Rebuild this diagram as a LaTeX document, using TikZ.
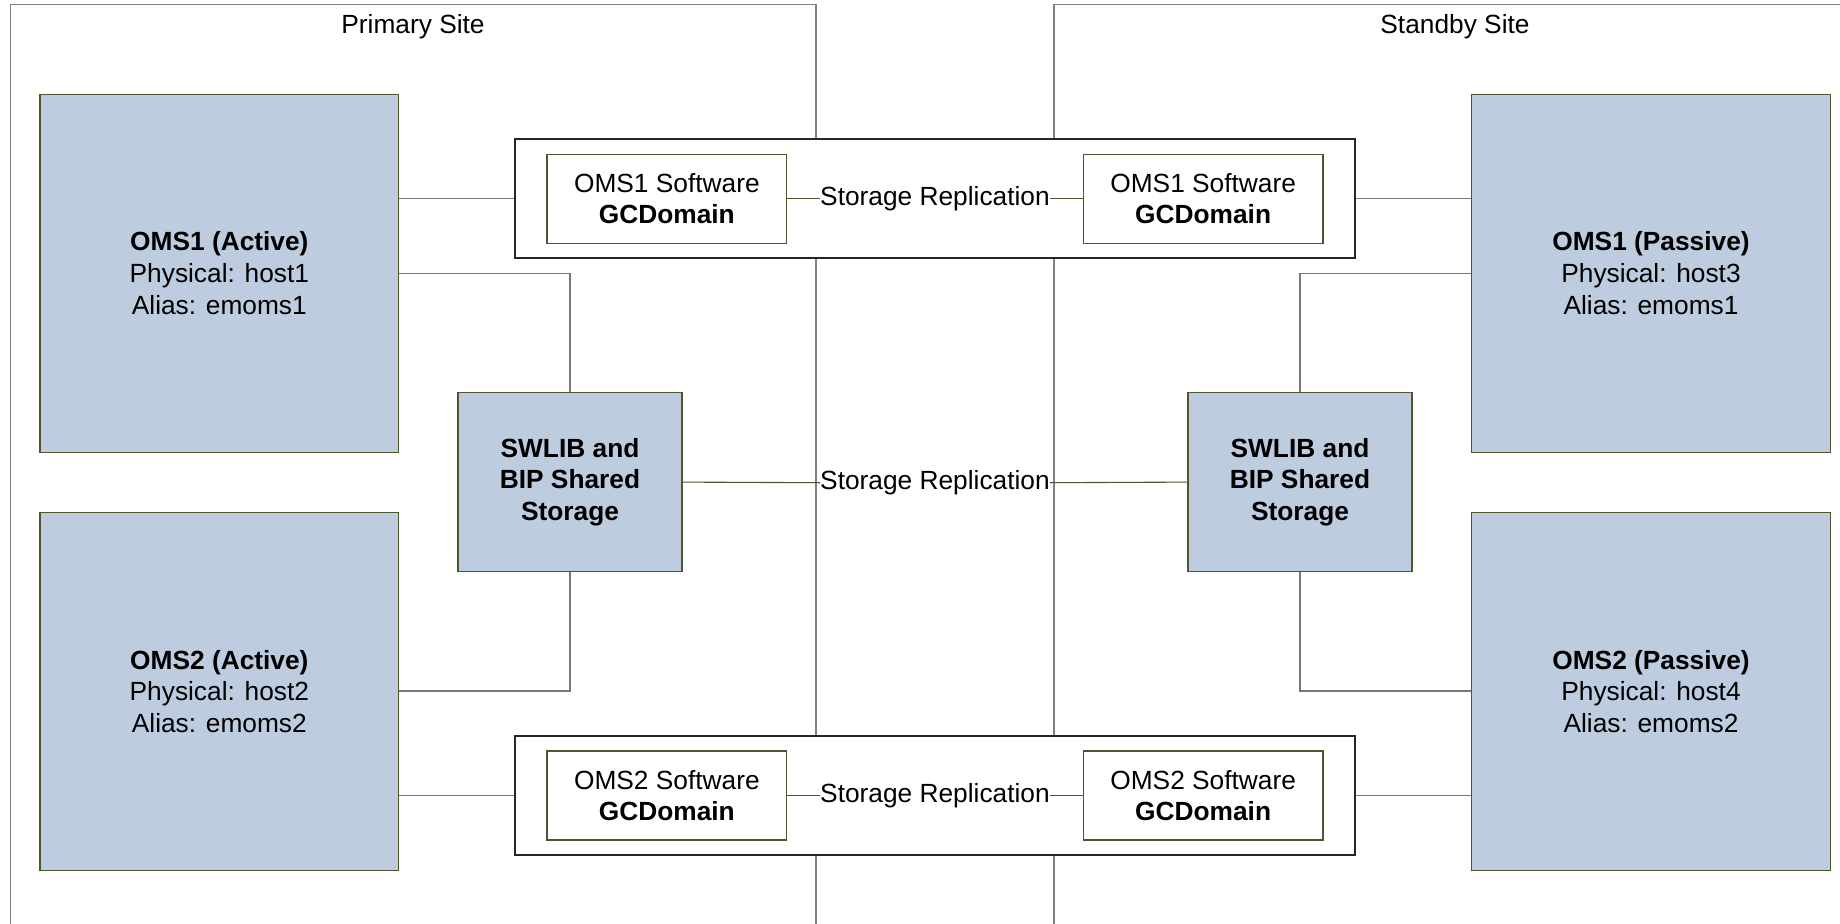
\documentclass[tikz,border=0pt]{standalone}
\usepackage{fontspec}
\setmainfont{Liberation Sans}
\definecolor{bluefill}{RGB}{190,204,223}
\definecolor{oliveline}{RGB}{78,86,46}
\definecolor{sitegray}{RGB}{128,128,128}
\definecolor{conngray}{RGB}{120,120,120}
\begin{document}
\begin{tikzpicture}[x=1pt,y=-1pt,
  txt/.style={font=\fontsize{26.3}{31.7}\selectfont, align=center, inner sep=0pt},
  sitebox/.style={draw=sitegray, line width=1.5pt},
  host/.style={txt, draw=oliveline, fill=bluefill, line width=1.1pt, minimum width=358.7pt, minimum height=358pt},
  shared/.style={txt, draw=oliveline, fill=bluefill, line width=1.1pt, minimum width=224pt, minimum height=179pt, font=\fontsize{26.3}{31.7}\selectfont\bfseries},
  outerbox/.style={draw=black!85, fill=white, line width=1.1pt, minimum width=840pt, minimum height=119pt, inner sep=0pt},
  softbox/.style={txt, draw=oliveline, fill=white, line width=1.1pt, minimum width=239.7pt, minimum height=89pt},
  repl/.style={txt},
  conn/.style={draw=conngray, line width=1.4pt},
  replconn/.style={draw=oliveline, line width=1.1pt}
]
\useasboundingbox (0,0) rectangle (1840,924);
\clip (0,0) rectangle (1840,924);
\fill[white] (0,0) rectangle (1840,924);

% sites
\draw[sitebox] (10.7,940) -- (10.7,4.7) -- (816,4.7) -- (816,940);
\draw[sitebox] (1054,940) -- (1054,4.7) -- (1860,4.7);
\node[txt] (primlbl) at (413,27) {Primary Site};
\node[txt] (stbylbl) at (1455,27) {Standby Site};

% hosts
\node[host] (oms1a) at (219.35,273.2) {\textbf{OMS1 (Active)}\\Physical: host1\\Alias: emoms1};
\node[host] (oms2a) at (219.35,691.3) {\textbf{OMS2 (Active)}\\Physical: host2\\Alias: emoms2};
\node[host] (oms1p) at (1651,273.2) {\textbf{OMS1 (Passive)}\\Physical: host3\\Alias: emoms1};
\node[host] (oms2p) at (1651,691.3) {\textbf{OMS2 (Passive)}\\Physical: host4\\Alias: emoms2};

% replication groups
\node[outerbox] (outer1) at (935,198.5) {};
\node[outerbox] (outer2) at (935,795.5) {};
\node[softbox] (in1l) at (666.85,198.7) {OMS1 Software\\\textbf{GCDomain}};
\node[softbox] (in1r) at (1203.15,198.7) {OMS1 Software\\\textbf{GCDomain}};
\node[softbox] (in2l) at (666.85,795.5) {OMS2 Software\\\textbf{GCDomain}};
\node[softbox] (in2r) at (1203.15,795.5) {OMS2 Software\\\textbf{GCDomain}};
\node[repl] (rep1) at (935,198.7) {Storage Replication};
\node[repl] (rep3) at (935,795.5) {Storage Replication};

% shared storage
\node[shared] (swl) at (570,482.1) {SWLIB and\\BIP Shared\\Storage};
\node[shared] (swr) at (1300,482.1) {SWLIB and\\BIP Shared\\Storage};
\node[repl] (rep2) at (935,482.7) {Storage Replication};

% junctions
\coordinate (j1) at (570,273.4);
\coordinate (j2) at (570,691);
\coordinate (j3) at (1300,273.4);
\coordinate (j4) at (1300,691);

% connectors
\draw[conn] (oms1a.east |- outer1.west) -- (outer1.west);
\draw[conn] (oms1a.east |- j1) -- (j1) -- (swl.north);
\draw[conn] (swl.south) -- (j2) -- (oms2a.east |- j2);
\draw[conn] (oms2a.east |- outer2.west) -- (outer2.west);
\draw[conn] (outer1.east) -- (oms1p.west |- outer1.east);
\draw[conn] (swr.north) -- (j3) -- (oms1p.west |- j3);
\draw[conn] (swr.south) -- (j4) -- (oms2p.west |- j4);
\draw[conn] (outer2.east) -- (oms2p.west |- outer2.east);

\draw[replconn] (in1l.east) -- (rep1.west);
\draw[replconn] (rep1.east) -- (in1r.west);
\draw[replconn] (in2l.east) -- (rep3.west);
\draw[replconn] (rep3.east) -- (in2r.west);
\draw[replconn] (swl.east) -- (rep2.west);
\draw[replconn] (rep2.east) -- (swr.west);
\end{tikzpicture}
\end{document}
